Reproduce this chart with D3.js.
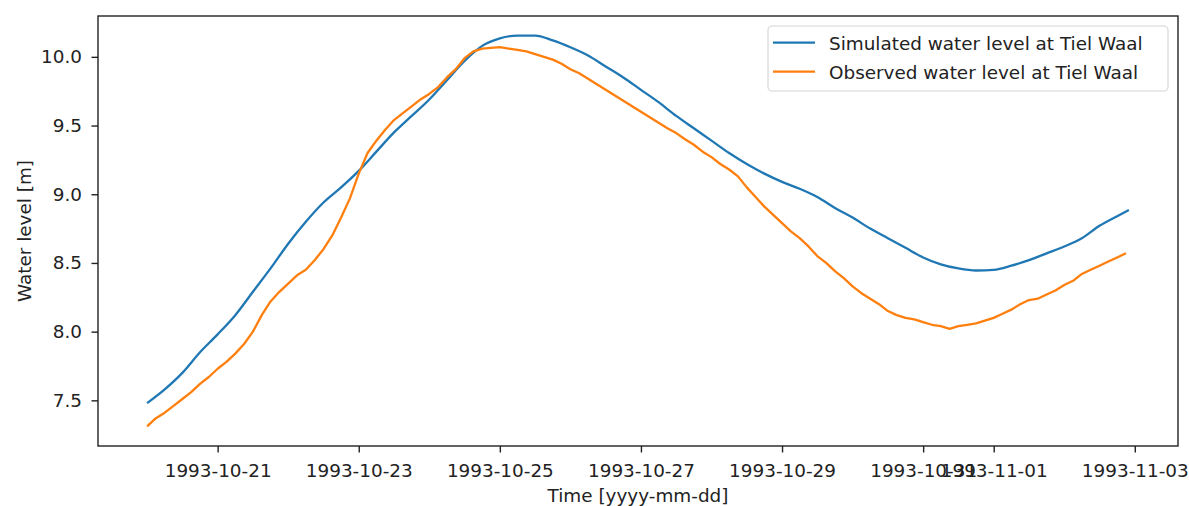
<!DOCTYPE html>
<html>
<head>
  <meta charset="UTF-8">
	<style>
	body {
		margin: 0;
		background: white;
	}
	
	svg text {
		font-family: 'DejaVu Sans', sans-serif;
		font-size: 18.4px;
		fill: #222;
	}
	
	.tick line {
		stroke: #222;
		stroke-width: 1.4px;
	}
	</style>
</head>
<body>
	<svg id="chart" width="1189" height="506"></svg>
	<script src="https://cdn.jsdelivr.net/npm/d3@7"></script>
	<script>
	
	//simulated water level, every 6 hours
	const simTimes = [
		"1993-10-20 00:00", "1993-10-20 06:00", "1993-10-20 12:00", "1993-10-20 18:00",
		"1993-10-21 00:00", "1993-10-21 06:00", "1993-10-21 12:00", "1993-10-21 18:00",
		"1993-10-22 00:00", "1993-10-22 06:00", "1993-10-22 12:00", "1993-10-22 18:00",
		"1993-10-23 00:00", "1993-10-23 06:00", "1993-10-23 12:00", "1993-10-23 18:00",
		"1993-10-24 00:00", "1993-10-24 06:00", "1993-10-24 12:00", "1993-10-24 18:00",
		"1993-10-25 00:00", "1993-10-25 06:00", "1993-10-25 12:00", "1993-10-25 18:00",
		"1993-10-26 00:00", "1993-10-26 06:00", "1993-10-26 12:00", "1993-10-26 18:00",
		"1993-10-27 00:00", "1993-10-27 06:00", "1993-10-27 12:00", "1993-10-27 18:00",
		"1993-10-28 00:00", "1993-10-28 06:00", "1993-10-28 12:00", "1993-10-28 18:00",
		"1993-10-29 00:00", "1993-10-29 06:00", "1993-10-29 12:00", "1993-10-29 18:00",
		"1993-10-30 00:00", "1993-10-30 06:00", "1993-10-30 12:00", "1993-10-30 18:00",
		"1993-10-31 00:00", "1993-10-31 06:00", "1993-10-31 12:00", "1993-10-31 18:00",
		"1993-11-01 00:00", "1993-11-01 06:00", "1993-11-01 12:00", "1993-11-01 18:00",
		"1993-11-02 00:00", "1993-11-02 06:00", "1993-11-02 12:00", "1993-11-02 18:00",
		"1993-11-02 22:00"
	];
	const simLevels = [
		7.48, 7.58, 7.70, 7.85,
		7.98, 8.12, 8.29, 8.46,
		8.64, 8.80, 8.94, 9.05,
		9.17, 9.31, 9.45, 9.57,
		9.69, 9.83, 9.97, 10.08,
		10.135, 10.155, 10.155, 10.12,
		10.07, 10.01, 9.93, 9.85,
		9.76, 9.67, 9.57, 9.48,
		9.39, 9.30, 9.22, 9.15,
		9.09, 9.04, 8.98, 8.90,
		8.83, 8.75, 8.68, 8.61,
		8.54, 8.49, 8.46, 8.445,
		8.45, 8.48, 8.52, 8.57,
		8.62, 8.68, 8.77, 8.84,
		8.885
	];
	
	//observed water level, one reading every 3 hours from obsStart
	const obsStart = "1993-10-20 00:00";
	const obsStepHours = 3;
	const obsLevels = [
		7.31, 7.37, 7.41, 7.46, 7.51, 7.56, 7.62, 7.67,
		7.73, 7.78, 7.84, 7.91, 8.00, 8.12, 8.22, 8.29,
		8.35, 8.41, 8.45, 8.52, 8.60, 8.70, 8.83, 8.97,
		9.15, 9.30, 9.39, 9.47, 9.54, 9.59, 9.64, 9.69,
		9.73, 9.78, 9.85, 9.91, 9.99, 10.04, 10.06, 10.065,
		10.07, 10.06, 10.05, 10.04, 10.02, 10.00, 9.98, 9.95,
		9.91, 9.88, 9.84, 9.80, 9.76, 9.72, 9.68, 9.64,
		9.60, 9.56, 9.52, 9.48, 9.445, 9.40, 9.36, 9.31,
		9.27, 9.22, 9.18, 9.13, 9.05, 8.98, 8.91, 8.85,
		8.79, 8.73, 8.68, 8.62, 8.55, 8.50, 8.44, 8.39,
		8.33, 8.28, 8.24, 8.20, 8.15, 8.12, 8.10, 8.09,
		8.07, 8.05, 8.04, 8.02, 8.04, 8.05, 8.06, 8.08,
		8.10, 8.13, 8.16, 8.20, 8.23, 8.24, 8.27, 8.30,
		8.34, 8.37, 8.42, 8.45, 8.48, 8.51, 8.54, 8.57
	];
	
	const xTicks = ["1993-10-21", "1993-10-23", "1993-10-25", "1993-10-27", "1993-10-29", "1993-10-31", "1993-11-01", "1993-11-03"];
	const yTicks = [7.5, 8.0, 8.5, 9.0, 9.5, 10.0];
	
	const seriesNames = ["Simulated water level at Tiel Waal", "Observed water level at Tiel Waal"];
	const seriesColours = ["#1f77b4", "#ff7f0e"];
	
	let parseTime = d3.timeParse("%Y-%m-%d %H:%M");
	let parseDay = d3.timeParse("%Y-%m-%d");
	
	let simData = simTimes.map((t, i) => ({ time: parseTime(t), level: simLevels[i] }));
	let obsData = obsLevels.map((v, i) => ({ time: d3.timeHour.offset(parseTime(obsStart), i * obsStepHours), level: v }));
	let allData = simData.concat(obsData);
	
	let box = { left: 98, top: 16, right: 1178, bottom: 446 };
	
	//matplotlib style 5% margins around the data
	let tExt = d3.extent(allData, d => d.time);
	let tPad = (tExt[1] - tExt[0]) * 0.05;
	let vExt = d3.extent(allData, d => d.level);
	let vPad = (vExt[1] - vExt[0]) * 0.05;
	
	let x = d3.scaleTime()
		.domain([new Date(+tExt[0] - tPad), new Date(+tExt[1] + tPad)])
		.range([box.left, box.right]);
	
	let y = d3.scaleLinear()
		.domain([vExt[0] - vPad, vExt[1] + vPad])
		.range([box.bottom, box.top]);
	
	let svg = d3.select("#chart");
	
	//model output is smooth, observations stay as measured
	let curves = [d3.curveMonotoneX, d3.curveLinear];
	
	[simData, obsData].forEach((data, i) => {
		let line = d3.line()
			.curve(curves[i])
			.x(d => x(d.time))
			.y(d => y(d.level));
		svg.append("path")
			.datum(data)
			.attr("fill", "none")
			.attr("stroke", seriesColours[i])
			.attr("stroke-width", 2.3)
			.attr("stroke-linejoin", "round")
			.attr("d", line);
	});
	
	let xAxis = svg.append("g")
		.attr("transform", "translate(0," + box.bottom + ")")
		.call(d3.axisBottom(x)
			.tickValues(xTicks.map(parseDay))
			.tickFormat(d3.timeFormat("%Y-%m-%d"))
			.tickSize(6.5)
			.tickPadding(11.5));
	xAxis.select(".domain").remove();
	
	let yAxis = svg.append("g")
		.attr("transform", "translate(" + box.left + ",0)")
		.call(d3.axisLeft(y)
			.tickValues(yTicks)
			.tickFormat(d3.format(".1f"))
			.tickSize(6.5)
			.tickPadding(9.5));
	yAxis.select(".domain").remove();
	
	svg.selectAll(".tick text").attr("fill", "#222");
	
	svg.append("rect")
		.attr("x", box.left)
		.attr("y", box.top)
		.attr("width", box.right - box.left)
		.attr("height", box.bottom - box.top)
		.attr("fill", "none")
		.attr("stroke", "#222")
		.attr("stroke-width", 1.4);
	
	svg.append("text")
		.attr("x", (box.left + box.right) / 2)
		.attr("y", 502)
		.attr("text-anchor", "middle")
		.text("Time [yyyy-mm-dd]");
	
	svg.append("text")
		.attr("transform", "translate(31," + ((box.top + box.bottom) / 2) + ") rotate(-90)")
		.attr("text-anchor", "middle")
		.text("Water level [m]");
	
	//legend
	let legend = svg.append("g");
	
	legend.append("rect")
		.attr("x", 768)
		.attr("y", 26)
		.attr("width", 400)
		.attr("height", 65)
		.attr("rx", 4)
		.attr("fill", "white")
		.attr("fill-opacity", 0.8)
		.attr("stroke", "#d6d6d6")
		.attr("stroke-width", 1.2);
	
	seriesNames.forEach((name, i) => {
		let cy = 42.7 + i * 29;
		legend.append("line")
			.attr("x1", 773)
			.attr("x2", 815)
			.attr("y1", cy)
			.attr("y2", cy)
			.attr("stroke", seriesColours[i])
			.attr("stroke-width", 2.3);
		legend.append("text")
			.attr("x", 829)
			.attr("y", cy + 7)
			.text(name);
	});
	
	</script>
</body>
</html>
